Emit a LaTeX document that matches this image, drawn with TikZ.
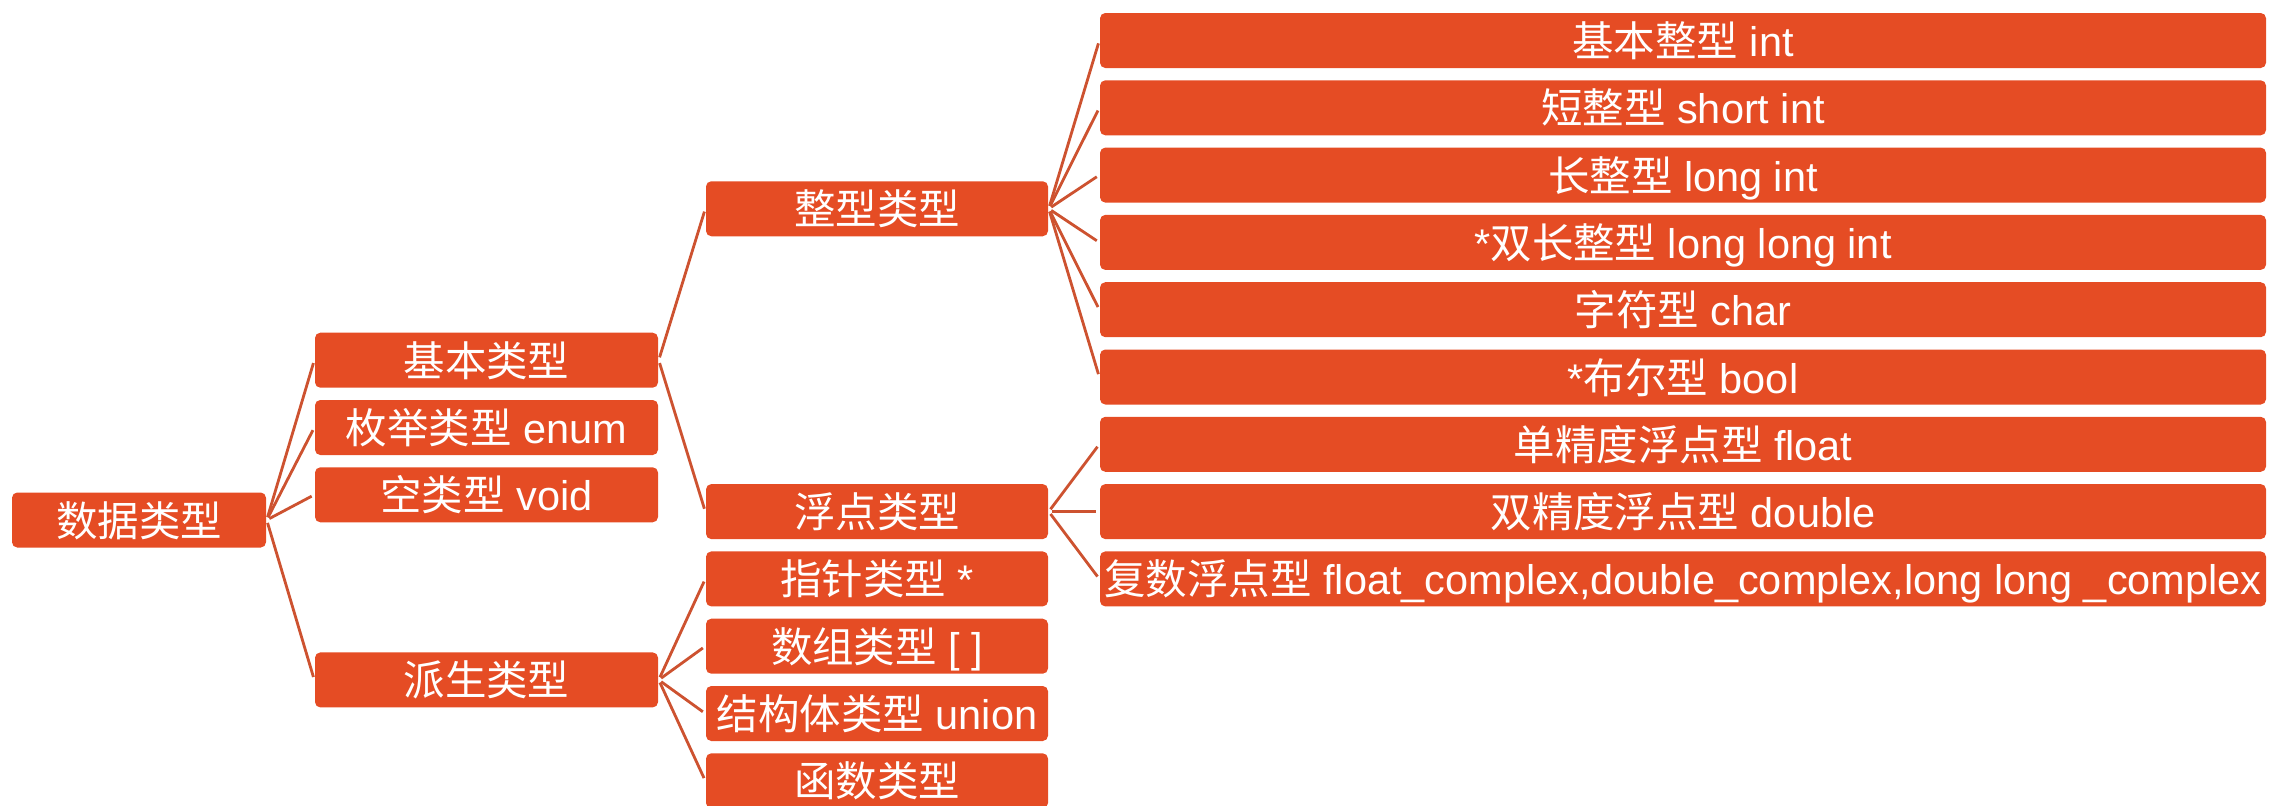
\documentclass[tikz,border=0pt]{standalone}
\usepackage{fontspec}
\setmainfont{Liberation Sans}
\newfontfamily\zhfont{Noto Sans CJK SC}
\newcommand{\zh}[1]{{\zhfont #1}}
\definecolor{boxfill}{HTML}{E54C24}
\definecolor{linecol}{HTML}{CD5230}
\tikzset{
  box/.style={fill=boxfill, rounded corners=1.5pt, text=white, minimum height=0.55cm,
    inner xsep=0pt, inner ysep=0pt, text height=0.32cm, text depth=0cm,
    font=\fontsize{11.8pt}{14pt}\selectfont, anchor=center},
  c1/.style={box, minimum width=2.54cm},
  c2/.style={box, minimum width=3.43cm},
  c3/.style={box, minimum width=3.42cm},
  c4/.style={box, minimum width=11.66cm},
  link/.style={draw=linecol, line width=0.8pt, shorten <=0.03cm, shorten >=0.03cm}
}
\begin{document}
\begin{tikzpicture}
\useasboundingbox (0,0) rectangle (22.69,-8.05);
\clip (0,0) rectangle (22.69,-8.05);
% column 1
\node[c1] (root) at (1.39,-5.20) {\zh{数据类型}};
% column 2
\node[c2] (jb) at (4.865,-3.602) {\zh{基本类型}};
\node[c2] (mj) at (4.865,-4.275) {\zh{枚举类型} enum};
\node[c2] (kl) at (4.865,-4.948) {\zh{空类型} void};
\node[c2] (ps) at (4.865,-6.799) {\zh{派生类型}};
% column 3
\node[c3] (zx) at (8.77,-2.0875) {\zh{整型类型}};
\node[c3] (fd) at (8.77,-5.116) {\zh{浮点类型}};
\node[c3] (zz) at (8.77,-5.789) {\zh{指针类型} *};
\node[c3] (sz) at (8.77,-6.462) {\zh{数组类型} [ ]};
\node[c3] (jg) at (8.77,-7.135) {\zh{结构体类型} union};
\node[c3] (hs) at (8.77,-7.808) {\zh{函数类型}};
% column 4
\node[c4] (a1) at (16.83,-0.405) {\zh{基本整型} int};
\node[c4] (a2) at (16.83,-1.078) {\zh{短整型} short int};
\node[c4] (a3) at (16.83,-1.751) {\zh{长整型} long int};
\node[c4] (a4) at (16.83,-2.424) {*\zh{双长整型} long long int};
\node[c4] (a5) at (16.83,-3.097) {\zh{字符型} char};
\node[c4] (a6) at (16.83,-3.770) {*\zh{布尔型} bool};
\node[c4] (b1) at (16.83,-4.443) {\zh{单精度浮点型} float};
\node[c4] (b2) at (16.83,-5.116) {\zh{双精度浮点型} double};
\node[c4] (b3) at (16.83,-5.789) {\zh{复数浮点型} float\_complex,double\_complex,long long \_complex};
% connectors
\foreach \c in {jb,mj,kl,ps} \draw[link] (root.east) -- (\c.west);
\foreach \c in {zx,fd} \draw[link] (jb.east) -- (\c.west);
\foreach \c in {zz,sz,jg,hs} \draw[link] (ps.east) -- (\c.west);
\foreach \c in {a1,a2,a3,a4,a5,a6} \draw[link] (zx.east) -- (\c.west);
\foreach \c in {b1,b2,b3} \draw[link] (fd.east) -- (\c.west);
\end{tikzpicture}
\end{document}
